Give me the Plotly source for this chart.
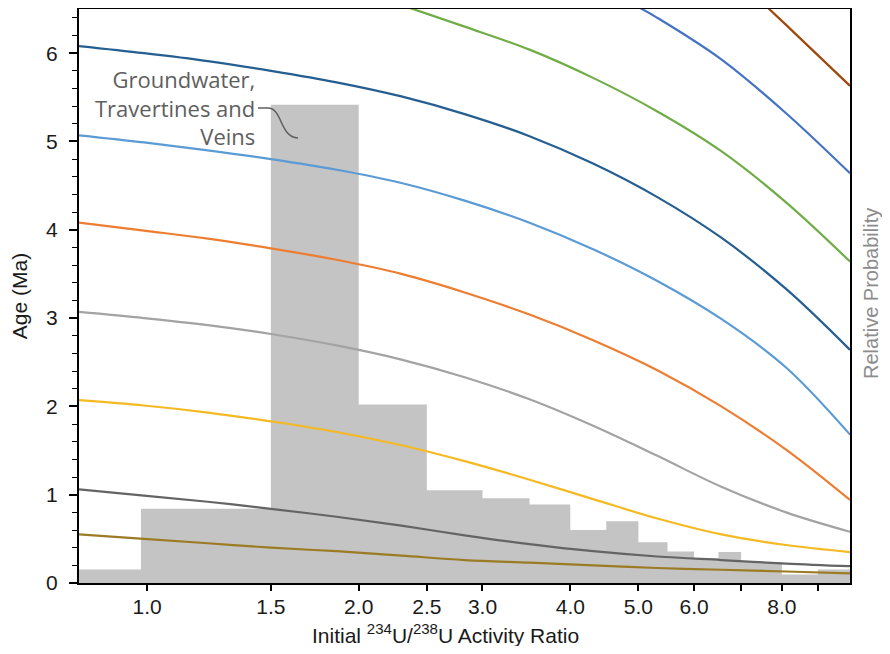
import plotly.graph_objects as go

# ---------------- data ----------------
# initial 234U/238U activity ratio at which each curve was read
ratio = [0.8, 0.99, 1.22, 1.5, 1.86, 2.3, 2.83, 3.5, 4.31, 5.32, 6.56, 8.11, 10.0]

age_gold = [0.55, 0.50, 0.45, 0.40, 0.36, 0.31, 0.26, 0.23, 0.20, 0.17, 0.15, 0.13, 0.11]
age_darkgray = [1.06, 0.99, 0.92, 0.84, 0.75, 0.65, 0.54, 0.44, 0.36, 0.30, 0.26, 0.22, 0.19]
age_yellow = [2.07, 2.01, 1.93, 1.83, 1.71, 1.56, 1.38, 1.17, 0.95, 0.73, 0.55, 0.43, 0.35]
age_gray = [3.07, 3.00, 2.92, 2.82, 2.69, 2.53, 2.33, 2.08, 1.78, 1.44, 1.09, 0.80, 0.58]
age_orange = [4.08, 3.99, 3.90, 3.79, 3.66, 3.50, 3.29, 3.04, 2.75, 2.41, 2.00, 1.51, 0.94]
age_lightblue = [5.07, 4.99, 4.90, 4.80, 4.68, 4.53, 4.33, 4.08, 3.78, 3.42, 2.99, 2.44, 1.68]
age_darkblue = [6.08, 6.00, 5.91, 5.80, 5.67, 5.51, 5.31, 5.06, 4.75, 4.37, 3.91, 3.33, 2.64]

ratio_green = [2.37, 2.83, 3.5, 4.31, 5.32, 6.56, 8.11, 10.0]
age_green = [6.51, 6.30, 6.04, 5.72, 5.34, 4.89, 4.31, 3.64]

ratio_midblue = [5.03, 5.32, 6.56, 8.11, 10.0]
age_midblue = [6.51, 6.40, 5.93, 5.32, 4.64]

ratio_brown = [7.65, 8.11, 10.0]
age_brown = [6.51, 6.32, 5.63]

# histogram (relative probability), bin edges in initial activity ratio
bin_edges = [0.8, 0.98, 1.5, 2.0, 2.5, 3.0, 3.5, 4.0, 4.5, 5.0, 5.5, 6.0, 6.5, 7.0, 8.0, 9.0, 10.0]
rel_prob = [0.028, 0.155, 1.0, 0.373, 0.194, 0.177, 0.164, 0.111, 0.129,
            0.085, 0.066, 0.052, 0.065, 0.044, 0.018, 0.028]

x_tickvals = [1.0, 1.5, 2.0, 2.5, 3.0, 4.0, 5.0, 6.0, 7.0, 8.0, 9.0]
x_ticktext = ["1.0", "1.5", "2.0", "2.5", "3.0", "4.0", "5.0", "6.0", "", "8.0", ""]
y_tickvals = [0, 1, 2, 3, 4, 5, 6]

# ---------------- figure ----------------
fig = go.Figure()

fig.add_trace(go.Scatter(
    x=bin_edges, y=rel_prob + [rel_prob[-1]],
    mode="lines", line=dict(shape="hv", width=0, color="#c4c4c4"),
    fill="tozeroy", fillcolor="#c4c4c4",
    yaxis="y", hoverinfo="skip", showlegend=False))

curves = [
    (ratio, age_gold, "#9b7b23"),
    (ratio, age_darkgray, "#646464"),
    (ratio, age_yellow, "#f5b921"),
    (ratio, age_gray, "#a3a3a3"),
    (ratio, age_orange, "#ed7d31"),
    (ratio, age_lightblue, "#5b9bd5"),
    (ratio, age_darkblue, "#255e91"),
    (ratio_green, age_green, "#70ad47"),
    (ratio_midblue, age_midblue, "#4472c4"),
    (ratio_brown, age_brown, "#9e480e"),
]
for xs, ys, col in curves:
    fig.add_trace(go.Scatter(
        x=xs, y=ys, mode="lines",
        line=dict(color=col, width=2.2, shape="spline", smoothing=1.0),
        yaxis="y2", showlegend=False))

font_main = "Liberation Sans, Arial, sans-serif"

fig.update_layout(
    width=874, height=638,
    margin=dict(l=71, r=32, t=1, b=63),
    paper_bgcolor="white", plot_bgcolor="white",
    showlegend=False,
    font=dict(family=font_main, size=21, color="#1a1a1a"),
    xaxis=dict(
        type="log", range=[-0.09691, 1.0],
        tickvals=x_tickvals, ticktext=x_ticktext,
        ticks="outside", ticklen=6, tickwidth=1.5, tickcolor="black",
        ticklabelstandoff=-2,
        showline=True, linecolor="black", linewidth=2, mirror=True,
        showgrid=False, zeroline=False,
        tickfont=dict(size=21),
        automargin=False,
    ),
    yaxis=dict(
        range=[0, 1.2], side="right",
        showticklabels=False, ticks="", showgrid=False, zeroline=False,
        showline=False, automargin=False,
    ),
    yaxis2=dict(
        overlaying="y", side="left", range=[0, 6.5],
        tickvals=y_tickvals,
        ticks="outside", ticklen=8, tickwidth=1.5, tickcolor="black",
        ticklabelstandoff=7,
        minor=dict(dtick=0.2, tick0=0, ticks="outside", ticklen=5,
                   tickwidth=1.2, tickcolor="black"),
        showline=True, linecolor="black", linewidth=2, mirror=True,
        showgrid=False, zeroline=False,
        tickfont=dict(size=21),
        title=dict(text="Age (Ma)", font=dict(size=21), standoff=16),
        automargin=False,
    ),
)

# x-axis title
fig.add_annotation(
    x=0.476, y=-0.088, xref="paper", yref="paper",
    text="Initial <sup><span style='font-size:15px'>234</span></sup>U/"
         "<sup><span style='font-size:15px'>238</span></sup>U Activity Ratio",
    showarrow=False, xanchor="center", yanchor="middle",
    font=dict(family=font_main, size=21, color="#1a1a1a"))

# right-hand axis title
fig.add_annotation(
    x=1.027, y=0.505, xref="paper", yref="paper",
    text="Relative Probability", textangle=-90, showarrow=False,
    font=dict(family=font_main, size=20, color="#8c8c8c"),
    xanchor="center", yanchor="middle")

# label for the tall histogram bar
fig.add_annotation(
    x=0.2309, y=0.829, xref="paper", yref="paper",
    text="Groundwater,<br>Travertines and<br>Veins", showarrow=False,
    align="right", xanchor="right", yanchor="middle",
    font=dict(family="Open Sans, sans-serif", size=22, color="#5e5e5e"))

fig.add_shape(
    type="path", xref="paper", yref="paper",
    path="M 0.2322,0.8275 L 0.2451,0.8275 C 0.2640,0.8275 0.2600,0.7770 0.2840,0.7753",
    line=dict(color="#5e5e5e", width=1.5))

fig.write_html("out.html")
